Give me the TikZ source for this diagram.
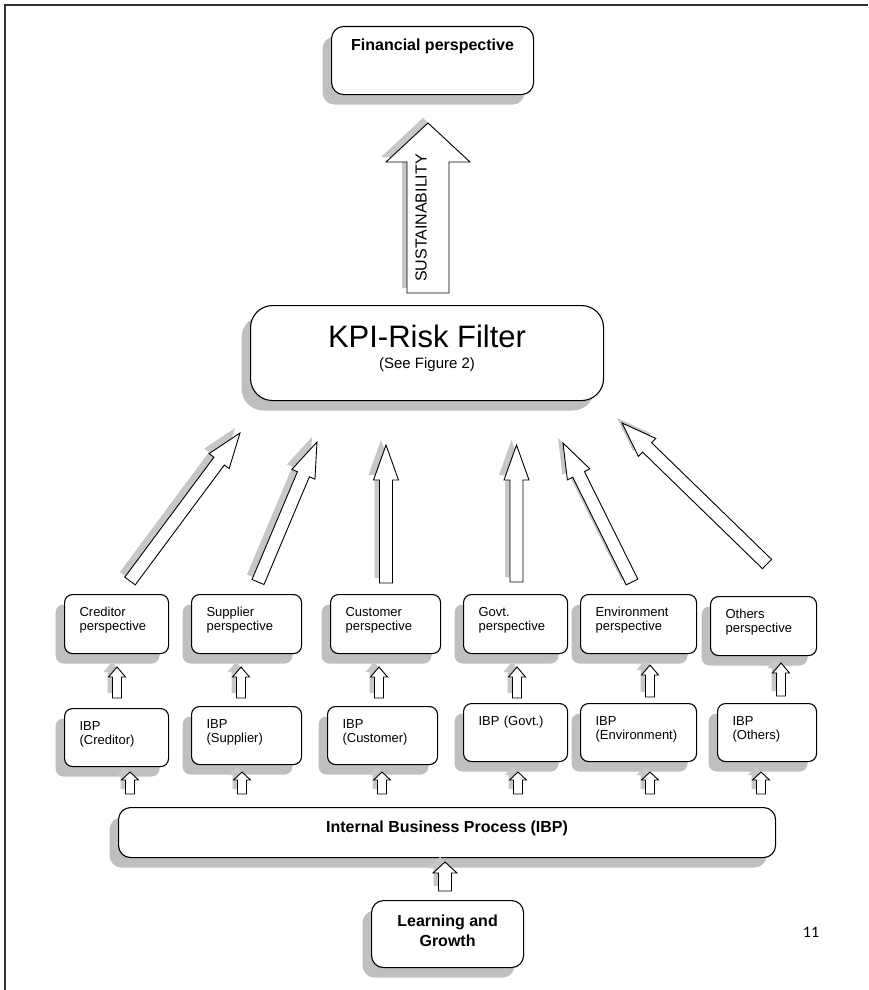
\documentclass[tikz,border=0pt]{standalone}
\usepackage{fontspec}
\setmainfont{Liberation Sans}
\newfontfamily\slidenumfont{Carlito}
\usetikzlibrary{calc,shadows}

% outline of a hollow block arrow from #1 to #2 (half shaft #3, half head #4)
\newcommand{\arrowoutline}[4]{($(#1)!#3!90:(#2)$) -- ($(ahead)!#3!-90:(#1)$) -- ($(ahead)!#4!-90:(#1)$) -- (#2) -- ($(ahead)!#4!90:(#1)$) -- ($(ahead)!#3!90:(#1)$) -- ($(#1)!#3!-90:(#2)$) -- cycle}
\newcommand{\blockarrow}[5]{%
  \coordinate (ahead) at ($(#2)!#5!(#1)$);
  \fill[arrowshade] \arrowoutline{#1}{#2}{#3}{#4};
  \draw[arrowbox] \arrowoutline{#1}{#2}{#3}{#4};}

\begin{document}
\begin{tikzpicture}[x=1pt,y=-1pt,
    box/.style={draw,line width=1.1pt,rounded corners=#1,fill=white,
      drop shadow={shadow xshift=-9pt,shadow yshift=-10pt,fill=black!25,opacity=1}},
    box/.default=8pt,
    arrowbox/.style={draw,fill=white,line width=0.9pt,line join=miter},
    arrowshade/.style={fill=black!22,transform canvas={xshift=-5pt,yshift=5pt}}]

  \useasboundingbox (0,0) rectangle (868,990);
  \draw[line width=1.8pt,black!80] (5,990) -- (5,5) -- (868,5);

  % top and middle boxes
  \node[box=12pt,anchor=north west,minimum width=202pt,inner ysep=4pt,
    text height=20pt,text depth=40pt,font=\bfseries\fontsize{16}{19}\selectfont]
    (fin) at (331,26) {Financial perspective};

  \node[box=22pt,anchor=north west,minimum width=353pt,inner ysep=4pt,
    text height=59pt,text depth=28pt,align=center,font=\fontsize{31}{21}\selectfont]
    (kpi) at (250,305) {KPI-Risk Filter\\{\fontsize{15}{21}\selectfont (See Figure 2)}};

  % stakeholder perspectives
  \begin{scope}[every node/.style={box,anchor=north west,align=left,inner xsep=15pt,
      inner ysep=4pt,text height=18pt,text depth=33pt,font=\fontsize{13}{14}\selectfont}]
    \node[text width=74pt] (credP) at (64,594) {Creditor\\perspective};
    \node[text width=80pt] (suppP) at (191,594) {Supplier\\perspective};
    \node[text width=80pt] (custP) at (330,594) {Customer\\perspective};
    \node[text width=74pt] (govP) at (463,594) {Govt.\\perspective};
    \node[text width=86pt] (envP) at (580,594) {Environment\\perspective};
    \node[text width=76pt] (othP) at (710,596) {Others\\perspective};
  \end{scope}

  % internal business processes per stakeholder
  \begin{scope}[every node/.style={box,anchor=north west,align=left,inner xsep=15pt,
      inner ysep=4pt,text height=18pt,text depth=32pt,font=\fontsize{13}{14}\selectfont}]
    \node[text width=74pt] (credI) at (64,708) {IBP\\(Creditor)};
    \node[text width=80pt] (suppI) at (191,706) {IBP\\(Supplier)};
    \node[text width=80pt] (custI) at (327,706) {IBP\\(Customer)};
    \node[text width=74pt] (govI) at (463,703) {IBP (Govt.)};
    \node[text width=86pt] (envI) at (580,703) {IBP\\(Environment)};
    \node[text width=69pt] (othI) at (717,703) {IBP\\(Others)};
  \end{scope}

  \node[box=12pt,anchor=north west,minimum width=657pt,inner ysep=4pt,
    text height=21pt,text depth=21pt,font=\bfseries\fontsize{16}{19}\selectfont]
    (ibp) at (118,807) {Internal Business Process (IBP)};

  \node[box=12pt,anchor=north west,minimum width=152pt,inner ysep=4pt,
    text height=42pt,text depth=17pt,align=center,font=\bfseries\fontsize{16}{20}\selectfont]
    (learn) at (371,900) {Learning and\\Growth};

  % sustainability arrow
  \coordinate (s0) at (428,293);
  \coordinate (s1) at (428,123);
  \blockarrow{s0}{s1}{21pt}{42pt}{39pt}
  \node[rotate=90,font=\fontsize{16}{16}\selectfont] (sus) at (421,218) {SUSTAINABILITY};

  % perspectives into the filter
  \foreach \n/\xa/\ya/\xb/\yb in {1/130/581/240/433, 2/258/582/317/442, 3/386/583/386/445,
      4/516.5/582/516.5/445, 5/632/582/563/443, 6/767/564/622/423} {
    \coordinate (f\n) at (\xa,\ya);
    \coordinate (g\n) at (\xb,\yb);
    \blockarrow{f\n}{g\n}{6.5pt}{12.5pt}{35pt}
  }

  % IBP into perspectives
  \foreach \n/\x/\ya/\yb in {1/117/698/667, 2/241/698/667, 3/379/698/667,
      4/517/698/667, 5/650/697/665, 6/781/696/663} {
    \coordinate (p\n) at (\x,\ya);
    \coordinate (q\n) at (\x,\yb);
    \blockarrow{p\n}{q\n}{4.5pt}{8.5pt}{10pt}
  }

  % internal business process into IBP per stakeholder
  \foreach \n/\x in {1/130, 2/242, 3/382, 4/518, 5/650, 6/761} {
    \coordinate (u\n) at (\x,794);
    \coordinate (v\n) at (\x,772);
    \blockarrow{u\n}{v\n}{4.5pt}{8.5pt}{8pt}
  }

  % learning and growth into IBP
  \coordinate (l0) at (445,891);
  \coordinate (l1) at (445,862);
  \blockarrow{l0}{l1}{6.5pt}{12pt}{11pt}

  \node[font=\slidenumfont\fontsize{16}{16}\selectfont] (pagenum) at (811,932) {11};

\end{tikzpicture}
\end{document}
